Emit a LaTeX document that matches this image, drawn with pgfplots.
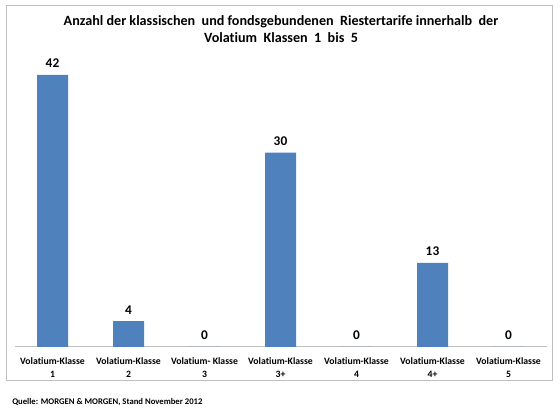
\documentclass[border=0pt]{standalone}
\usepackage{fontspec}
\setmainfont[Ligatures=NoCommon]{Carlito}
\usepackage{pgfplots}
\pgfplotsset{compat=1.18}
\definecolor{barblue}{HTML}{4F81BD}
\definecolor{framegray}{HTML}{BFBFBF}
\begin{document}
\begin{tikzpicture}
\path[use as bounding box] (0,0) rectangle (420pt,306.75pt);
\draw[framegray, line width=0.75pt] (4.5pt,21.4pt) rectangle (414pt,302.25pt);
\node[anchor=base, inner sep=0, font=\fontsize{10.6}{12}\selectfont\bfseries] at (210.75pt,287.5pt) {Anzahl der klassischen\ \ und fondsgebundenen\ \ Riestertarife innerhalb\ \ der};
\node[anchor=base, inner sep=0, font=\fontsize{10.6}{12}\selectfont\bfseries] at (210.75pt,275pt) {Volatium\ \ Klassen\ \ 1\ \ bis\ \ 5};
\node[anchor=base west, inner sep=0, font=\fontsize{6.5}{8}\selectfont\bfseries] at (9pt,3.2pt) {Quelle: MORGEN \& MORGEN, Stand November 2012};
\begin{axis}[
  at={(10.875pt,46.5pt)}, anchor=south west,
  scale only axis, width=399pt, height=218.6pt,
  xmin=-0.5, xmax=6.5, ymin=0, ymax=45,
  axis y line=none,
  axis x line*=bottom,
  x axis line style={-, framegray, line width=0.75pt},
  xtick=data,
  major tick length=0pt,
  /pgf/number format/assume math mode=true,
  xticklabels={{Volatium-Klasse\\1},{Volatium-Klasse\\2},{Volatium- Klasse\\3},{Volatium-Klasse\\3+},{Volatium-Klasse\\4},{Volatium-Klasse\\4+},{Volatium-Klasse\\5}},
  xticklabel style={align=center, font=\fontsize{7.3}{9.2}\selectfont\bfseries, inner sep=0pt, yshift=-8pt},
  ybar, bar width=23.25pt,
  nodes near coords,
  every node near coord/.append style={font=\fontsize{10}{11}\selectfont\bfseries, anchor=base, inner sep=0pt, yshift=5.25pt, text=black},
  clip=false,
]
\addplot[fill=barblue, draw=none] coordinates {(0,42) (1,4) (2,0) (3,30) (4,0) (5,13) (6,0)};
\end{axis}
\end{tikzpicture}
\end{document}
